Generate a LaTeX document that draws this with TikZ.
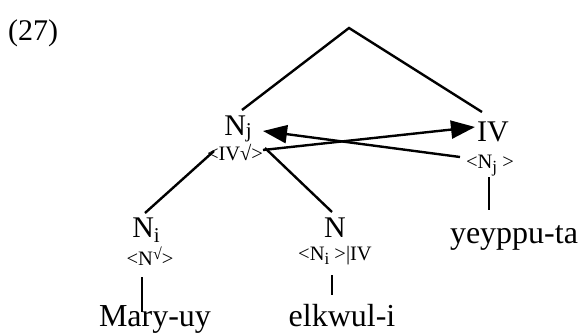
\documentclass[tikz,border=0pt]{standalone}
\usepackage{fontspec}
\setmainfont{Liberation Serif}
\usetikzlibrary{arrows.meta}
\newcommand{\bigsub}[2]{\raisebox{-#1pt}{\fontsize{21}{21}\selectfont #2}}
\newcommand{\smallsub}[1]{\raisebox{-4pt}{\fontsize{17}{17}\selectfont #1}}
\newcommand{\smallsup}[1]{\raisebox{6pt}{\fontsize{16}{16}\selectfont #1}}
\begin{document}
\begin{tikzpicture}[x=1pt,y=-1pt,
  big/.style={font=\fontsize{30}{30}\selectfont, inner sep=0pt, anchor=base},
  word/.style={font=\fontsize{32}{32}\selectfont, inner sep=0pt, anchor=base},
  small/.style={font=\fontsize{20.5}{20.5}\selectfont, inner sep=0pt, anchor=base},
  edge/.style={line width=2.4pt},
  arr/.style={line width=2.4pt, -{Triangle[length=24pt,width=18pt]}}]
\useasboundingbox (0,0) rectangle (580,332);
% labels
\node[big] (ex) at (33,40) {(27)};
\node[big] (Nj) at (238,135) {N\bigsub{2.5}{j}};
\node[small] (NjF) at (235,160) {<IV√>};
\node[big] (IV) at (493,141) {IV};
\node[small] (NjIV) at (490,168) {<N\smallsub{j} >};
\node[word] (yey) at (514,243) {yeyppu-ta};
\node[big] (Ni) at (146,237) {N\bigsub{5}{i}};
\node[small] (NiF) at (150,265) {<N\smallsup{√}>};
\node[word] (mary) at (155,326) {Mary-uy};
\node[big] (Nel) at (335,237) {N};
\node[small] (NelF) at (335,260) {<N\smallsub{i} >|IV};
\node[word] (elk) at (342,326) {elkwul-i};
% connector end points
\coordinate (top) at (349,28);
\coordinate (NjT) at (242,110);
\coordinate (IVT) at (482,112);
\coordinate (NjL) at (214,151);
\coordinate (NjR) at (265,148);
\coordinate (NiT) at (145,213);
\coordinate (NelT) at (332,212);
\coordinate (aStart) at (263,150);
\coordinate (aTip) at (475,127);
\coordinate (bStart) at (460,157);
\coordinate (bTip) at (263,131);
\coordinate (yT) at (489,177);
\coordinate (yB) at (489,210);
\coordinate (mT) at (142,277);
\coordinate (mB) at (142,312);
\coordinate (eT) at (332,275);
\coordinate (eB) at (332,295);
% connectors
\draw[edge] (NjT) -- (top) -- (IVT);
\draw[edge] (NjL) -- (NiT);
\draw[edge] (NjR) -- (NelT);
\draw[arr] (aStart) -- (aTip);
\draw[arr] (bStart) -- (bTip);
\draw[edge] (yT) -- (yB);
\draw[edge] (mT) -- (mB);
\draw[edge] (eT) -- (eB);
\end{tikzpicture}
\end{document}
